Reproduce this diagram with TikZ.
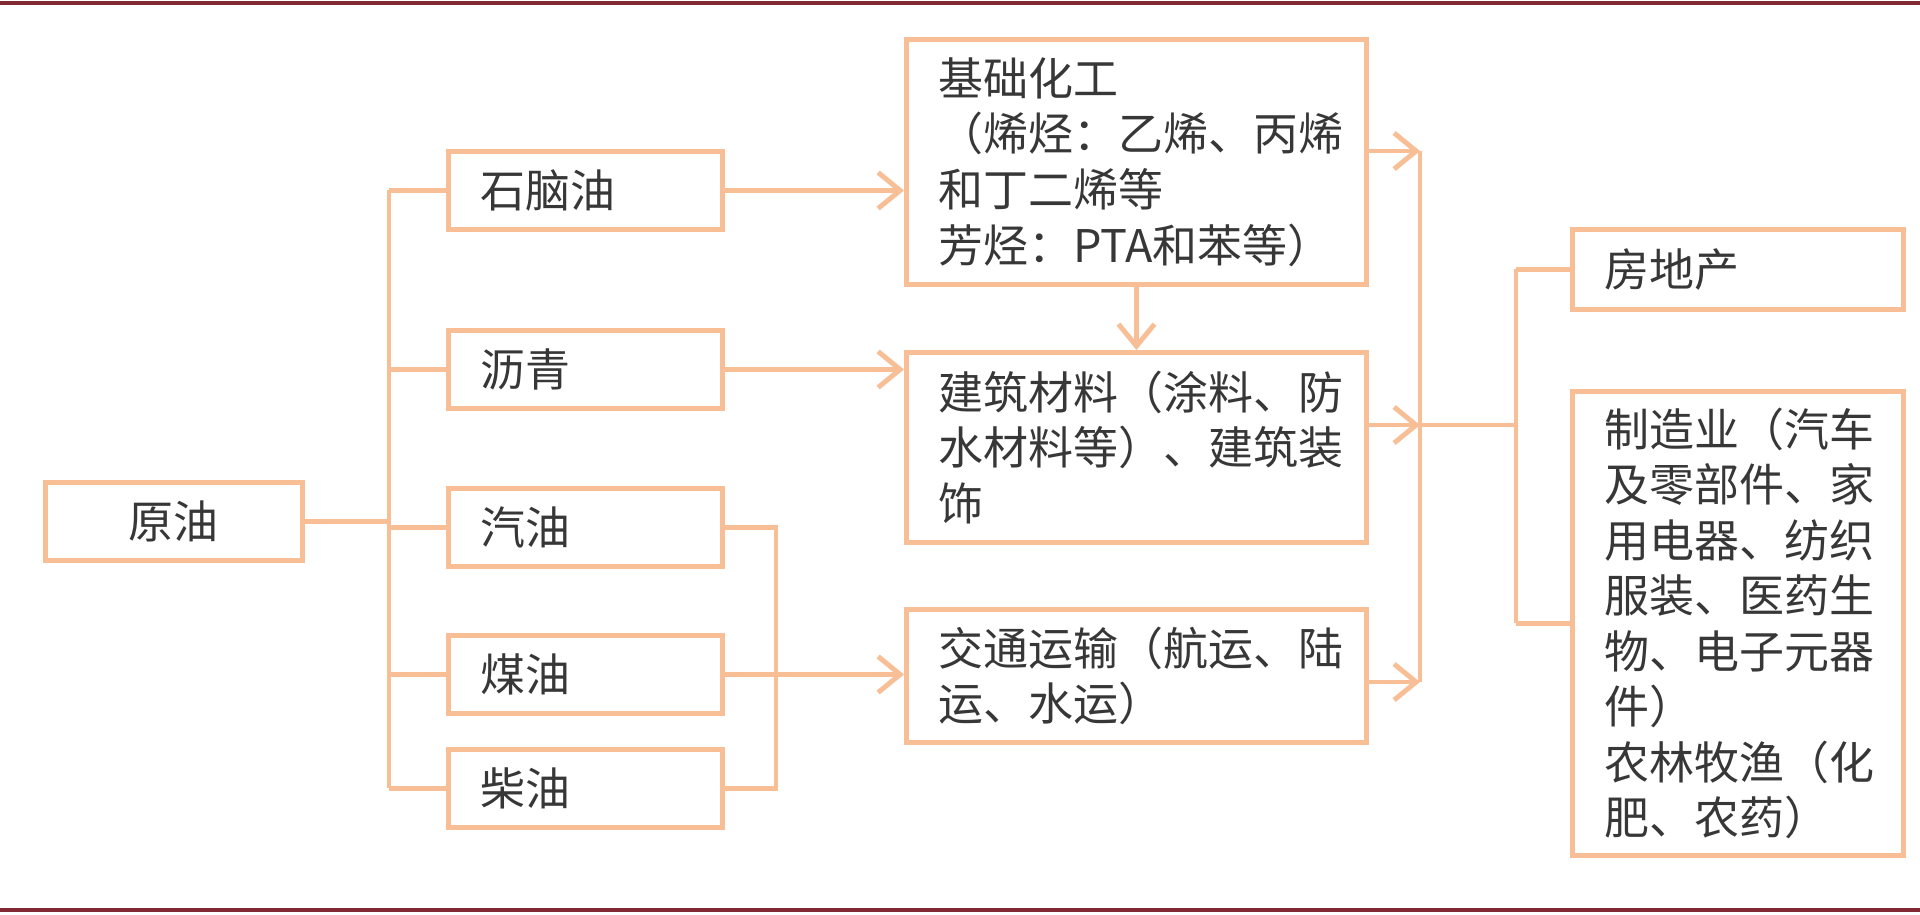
\documentclass[tikz,border=0pt]{standalone}
\usepackage{fontspec}
\newfontfamily\cjk{Noto Sans CJK SC}
\usetikzlibrary{arrows.meta,positioning}
\definecolor{lineor}{RGB}{248,190,150}
\definecolor{txtgray}{RGB}{55,55,55}
\definecolor{rimred}{RGB}{130,40,50}
\begin{document}
\begin{tikzpicture}[thick,
  box/.style={draw=lineor,line width=1.4pt,anchor=north west,align=left,inner ysep=0pt,inner xsep=0.32cm,
    font=\cjk\fontsize{12.8}{15.8}\selectfont,text=txtgray},
  line/.style={draw=lineor,line width=1.4pt},
  arr/.style={line,-{Straight Barb[length=2.2mm,width=3.6mm]}}]
\useasboundingbox (0,0) rectangle (19.2,-9.14);
\draw[rimred,line width=1.2pt] (0,-0.03) -- (19.2,-0.03);
\draw[rimred,line width=1.2pt] (0,-9.1) -- (19.2,-9.1);
% left column
\node[box,minimum height=0.78cm,text width=1.93cm,align=center] (yuanyou) at (0.43,-4.80) {原油};
\tikzstyle{left}=[box,minimum height=0.78cm,text width=2.10cm]
\node[left] (shinao) at (4.46,-1.49) {石脑油};
\node[left] (liqing) at (4.46,-3.28) {沥青};
\node[left] (qiyou) at (4.46,-4.86) {汽油};
\node[left] (meiyou) at (4.46,-6.33) {煤油};
\node[left] (chaiyou) at (4.46,-7.47) {柴油};
% middle column
\tikzstyle{mid}=[box,text width=3.96cm]
\node[mid,minimum height=2.45cm] (jichu) at (9.04,-0.37) {基础化工\\（烯烃：乙烯、丙烯\\和丁二烯等\\芳烃：PTA和苯等）};
\node[mid,minimum height=1.90cm] (jianzhu) at (9.04,-3.50) {建筑材料（涂料、防\\水材料等）、建筑装\\饰};
\node[mid,minimum height=1.33cm] (jiaotong) at (9.04,-6.07) {交通运输（航运、陆\\运、水运）};
% right column
\tikzstyle{right}=[box,text width=2.67cm]
\node[right,minimum height=0.80cm] (fangdi) at (15.70,-2.27) {房地产};
\node[right,minimum height=4.64cm] (zhizao) at (15.70,-3.89) {制造业（汽车\\及零部件、家\\用电器、纺织\\服装、医药生\\物、电子元器\\件）\\农林牧渔（化\\肥、农药）};
% connectors
\coordinate (tk) at (3.89,0);
\coordinate (jn) at (7.76,0);
\coordinate (r1) at (14.20,-1.51);
\coordinate (r2) at (14.20,-4.25);
\coordinate (r3) at (14.20,-6.82);
\coordinate (hub) at (15.16,-4.25);
\draw[line] (yuanyou.east) -- (yuanyou.east -| tk);
\draw[line] (shinao.west -| tk) -- (chaiyou.west -| tk);
\foreach \n in {shinao,liqing,qiyou,meiyou,chaiyou}
  \draw[line] (\n.west -| tk) -- (\n.west);
\draw[line] (qiyou.east) -- (qiyou.east -| jn) -- (chaiyou.east -| jn) -- (chaiyou.east);
\draw[arr] (shinao.east) -- (shinao.east -| jichu.west);
\draw[arr] (liqing.east) -- (liqing.east -| jianzhu.west);
\draw[arr] (meiyou.east) -- (meiyou.east -| jiaotong.west);
\draw[arr] (jichu.south) -- (jianzhu.north);
\draw[arr] (jichu.east |- r1) -- (r1);
\draw[arr] (jianzhu.east |- r2) -- (r2);
\draw[arr] (jiaotong.east |- r3) -- (r3);
\draw[line] (r1) -- (r3);
\draw[line] (r2) -- (hub);
\draw[line] (fangdi.west -| hub) -- (zhizao.west -| hub);
\draw[line] (fangdi.west -| hub) -- (fangdi.west);
\draw[line] (zhizao.west -| hub) -- (zhizao.west);
\end{tikzpicture}
\end{document}
